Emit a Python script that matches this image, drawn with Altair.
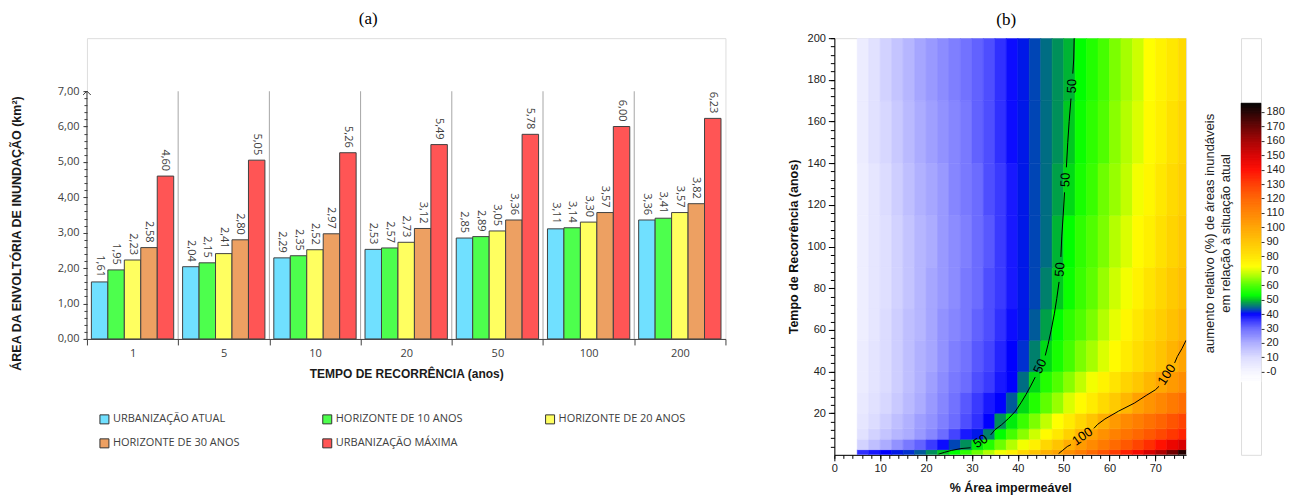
import altair as alt
import pandas as pd

# ======================= (a) grouped bars =======================
PERIODS = ['1', '5', '10', '20', '50', '100', '200']
SCENARIOS = ['URBANIZAÇÃO ATUAL', 'HORIZONTE DE 10 ANOS', 'HORIZONTE DE 20 ANOS',
             'HORIZONTE DE 30 ANOS', 'URBANIZAÇÃO MÁXIMA']
URB_ATUAL = [1.61, 2.04, 2.29, 2.53, 2.85, 3.11, 3.36]
HOR_10 = [1.95, 2.15, 2.35, 2.57, 2.89, 3.14, 3.41]
HOR_20 = [2.23, 2.41, 2.52, 2.73, 3.05, 3.30, 3.57]
HOR_30 = [2.58, 2.80, 2.97, 3.12, 3.36, 3.57, 3.82]
URB_MAX = [4.60, 5.05, 5.26, 5.49, 5.78, 6.00, 6.23]
BAR_COLORS = ['#70e0ff', '#4dff4d', '#ffff60', '#eda062', '#ff5555']
Y_TICKS_A = [0, 1, 2, 3, 4, 5, 6, 7]
Y_MINOR_A = [round(i * 0.2, 1) for i in range(36)]
Y_MAX_A = 7.0

# ======================= (b) heat map =======================
X_EDGES = [5.0, 7.5, 10.0, 12.5, 15.0, 17.5, 20.0, 22.5, 25.0, 27.5, 30.0, 32.5, 35.0,
           37.5, 40.0, 42.5, 45.0, 47.5, 50.0, 52.5, 55.0, 57.5, 60.0, 62.5, 65.0, 67.5,
           70.0, 72.5, 75.0, 77.5]
T_EDGES = [0, 2.5, 7.5, 12.5, 20, 30, 40, 55, 70, 90, 115, 140, 170, 200]
ROW_T000 = [36, 38, 40, 41, 42, 44, 47, 50, 53, 57, 62, 67, 72, 77, 84, 90, 96, 100, 106, 112, 118, 124, 130, 136, 142, 150, 158, 168, 180]
ROW_T002 = [12, 16, 20, 24, 28, 31, 35, 39, 43, 47, 52, 56, 62, 67, 72, 77, 84, 90, 97, 103, 108, 113, 118, 123, 128, 133, 139, 145, 150]
ROW_T007 = [8, 12, 15, 18, 20, 23, 26, 30, 34, 38, 41, 46, 53, 59, 64, 69, 74, 79, 86, 94, 101, 106, 111, 115, 119, 123, 127, 131, 135]
ROW_T012 = [6, 10, 13, 16, 19, 22, 24, 27, 30, 33, 36, 40, 47, 52, 58, 63, 68, 73, 78, 84, 90, 97, 103, 108, 112, 116, 120, 124, 128]
ROW_T020 = [5, 8, 11, 14, 17, 20, 23, 26, 29, 32, 35, 38, 40, 44, 51, 56, 61, 65, 70, 74, 78, 83, 88, 94, 101, 105, 109, 113, 117]
ROW_T030 = [4, 7, 10, 13, 16, 19, 22, 25, 28, 30, 33, 35, 38, 40, 45, 51, 56, 60, 64, 68, 72, 76, 80, 85, 89, 94, 99, 103, 107]
ROW_T040 = [4, 7, 10, 13, 16, 19, 21, 24, 27, 29, 32, 34, 37, 40, 42, 46, 51, 55, 59, 63, 66, 70, 74, 78, 82, 86, 90, 95, 100]
ROW_T055 = [3, 6, 10, 13, 16, 18, 21, 24, 26, 28, 31, 33, 36, 39, 41, 44, 48, 53, 57, 60, 63, 67, 71, 75, 79, 83, 87, 91, 95]
ROW_T070 = [3, 6, 9, 12, 15, 18, 21, 23, 25, 28, 30, 33, 35, 38, 41, 43, 46, 50, 54, 58, 61, 65, 69, 72, 76, 80, 84, 88, 92]
ROW_T090 = [3, 6, 9, 12, 15, 18, 20, 23, 25, 27, 30, 32, 35, 38, 41, 43, 45, 49, 53, 57, 60, 63, 67, 70, 74, 77, 81, 85, 89]
ROW_T115 = [3, 6, 10, 13, 16, 19, 21, 23, 26, 28, 30, 33, 35, 38, 41, 43, 45, 48, 51, 55, 58, 62, 65, 68, 72, 75, 79, 83, 87]
ROW_T140 = [4, 8, 11, 14, 17, 20, 22, 24, 26, 28, 31, 33, 36, 39, 41, 43, 45, 47, 50, 54, 57, 60, 64, 67, 70, 74, 77, 81, 85]
ROW_T170 = [4, 8, 12, 15, 18, 21, 23, 25, 27, 29, 31, 33, 36, 39, 41, 43, 45, 47, 49, 53, 56, 59, 63, 66, 69, 73, 76, 79, 83]
HEAT_ROWS = [ROW_T000, ROW_T002, ROW_T007, ROW_T012, ROW_T020, ROW_T030, ROW_T040,
             ROW_T055, ROW_T070, ROW_T090, ROW_T115, ROW_T140, ROW_T170]

# contour lines (x = % area, t = return period), split where labels sit
C_X = [52.3, 52.2, 52.0,
       51.6, 51.2, 50.9, 50.6,
       50.2, 49.9, 49.6, 49.4,
       49.0, 48.5, 48.0, 47.3, 46.6, 46.0,
       43.8, 42.8, 41.8, 40.7, 39.5, 38.0, 36.5, 35.0, 34.1,
       29.7, 27.6, 25.5, 24.0, 22.7,
       76.7, 75.8, 74.8, 74.2,
       70.8, 70.0, 68.0, 65.4, 62.0, 59.0, 57.4, 56.6,
       51.6, 50.8, 49.7, 48.9]
C_T = [200, 190, 183,
       171, 160, 150, 138,
       126, 115, 105, 95,
       83, 75, 68, 60, 53, 47.7,
       37.3, 33, 29, 25, 21, 17.5, 14.5, 12, 9.6,
       3.4, 3.0, 2.1, 1.2, 0.3,
       55, 51, 47.2, 44.1,
       32.9, 31.2, 28.5, 24.8, 21, 17.2, 14.6, 12.7,
       4.9, 4.0, 2.0, 0.6]
C_SEG = ['a'] * 3 + ['b'] * 4 + ['c'] * 4 + ['d'] * 6 + ['e'] * 9 + ['f'] * 5 + \
        ['g'] * 4 + ['h'] * 8 + ['i'] * 4
LAB_X = [51.8, 50.4, 49.2, 44.9, 31.9, 72.5, 54.1]
LAB_T = [177, 132, 89, 42.5, 6.5, 38.5, 8.8]
LAB_TXT = ['50', '50', '50', '50', '50', '100', '100']
LAB_ANG = [272, 272, 274, 295, 327, 303, 325]

# colour bar
CB_STOPS = [-7, 0, 10, 20, 30, 36, 40, 42, 44, 46, 48, 50, 53, 60, 67, 73, 80, 90, 100,
            110, 120, 130, 140, 150, 160, 170, 180, 186]
CB_COLORS = ['#ffffff', '#f6f6ff', '#dcdcff', '#acacff', '#6c6cff', '#3030ff', '#0000ff',
             '#0030d0', '#005a9a', '#00806c', '#00a048', '#00c820', '#00ff00', '#50ff00',
             '#b4ff00', '#ffff00', '#ffe400', '#ffc400', '#ffa400', '#ff8400', '#ff6400',
             '#ff3c00', '#ff0c00', '#d80000', '#a40000', '#640000', '#240000', '#000000']
CB_TICKS = [0, 10, 20, 30, 40, 50, 60, 70, 80, 90, 100, 110, 120, 130, 140, 150, 160, 170, 180]
HX_TICKS = [0, 10, 20, 30, 40, 50, 60, 70]
HX_MINOR = list(range(0, 77, 2))
HY_TICKS = [20, 40, 60, 80, 100, 120, 140, 160, 180, 200]
HY_MINOR = list(range(4, 201, 4))

FONT_A = 'Open Sans'
FONT_B = 'Liberation Sans'
DARK = '#404040'

# ---------------------------------------------------------------- sizes (px)
H_PLOT = 417                      # common plot height of all panels
YMAX_A_DOMAIN = 8.496             # (a): 7,00 sits 53 px under the plot top
H_A = 301
PX_A = H_A / YMAX_A_DOMAIN        # (a) pixels per km2
YC_DOMAIN = [-57.5, 231]

# ---------------------------------------------------------------- tables
rows = []
for s, vals in zip(SCENARIOS, [URB_ATUAL, HOR_10, HOR_20, HOR_30, URB_MAX]):
    for p, v in zip(PERIODS, vals):
        rows.append({'periodo': p, 'cenario': s, 'area': v,
                     'rotulo': f'{v:.2f}'.replace('.', ',')})
bars_df = pd.DataFrame(rows)
sep_df = pd.DataFrame({'periodo': PERIODS[1:], 'ymid': [Y_MAX_A / 2] * 6})
axis_df = pd.DataFrame({'ymid': [Y_MAX_A / 2], 'ytopo': [Y_MAX_A]})

hrows = []
for t0, t1, vals in zip(T_EDGES[:-1], T_EDGES[1:], HEAT_ROWS):
    for x0, x1, v in zip(X_EDGES[:-1], X_EDGES[1:], vals):
        hrows.append({'x0': x0, 'x1': x1, 't0': t0, 't1': t1, 'v': v})
heat_df = pd.DataFrame(hrows)

cont_df = pd.DataFrame({'x': C_X, 't': C_T, 'seg': C_SEG, 'i': list(range(len(C_X)))})
lab_df = pd.DataFrame({'x': LAB_X, 't': LAB_T, 'txt': LAB_TXT, 'ang': LAB_ANG})

# ---------------------------------------------------------------- (a)
ys_a = alt.Scale(domain=[0, YMAX_A_DOMAIN], nice=False, zero=True)
x_axis_a = alt.Axis(title='TEMPO DE RECORRÊNCIA (anos)', labelAngle=0, tickBand='extent',
                    grid=False, gridOpacity=0, tickSize=6, tickColor=DARK,
                    domainColor=DARK, labelFont=FONT_A, labelFontSize=11, labelColor=DARK,
                    labelPadding=3, titleFont=FONT_B, titleFontSize=12,
                    titleFontWeight='bold', titleColor='#1a1a1a', titlePadding=10)
x_scale_a = alt.Scale(paddingInner=0, paddingOuter=0)
bar_x = alt.X('periodo:N', sort=PERIODS, scale=x_scale_a, axis=x_axis_a)
bar_xo = alt.XOffset('cenario:N', sort=SCENARIOS,
                     scale=alt.Scale(paddingOuter=0.27, paddingInner=0))
base_a = alt.Chart(bars_df)

sep_len = Y_MAX_A * PX_A
separators = alt.Chart(sep_df).mark_tick(orient='vertical', size=sep_len, thickness=1,
                                         color='#a6a6a6', opacity=1).encode(
    x=alt.X('periodo:N', sort=PERIODS, scale=x_scale_a, axis=x_axis_a, bandPosition=0),
    y=alt.Y('ymid:Q', scale=ys_a, axis=None))

bars = base_a.mark_bar(stroke=DARK, strokeWidth=1).encode(
    x=bar_x, xOffset=bar_xo,
    y=alt.Y('area:Q', scale=ys_a,
            axis=alt.Axis(orient='left', values=Y_TICKS_A, domain=False,
                          labelExpr="replace(format(datum.value, '.2f'), '.', ',')",
                          tickSize=4, tickColor=DARK, labelFont=FONT_A,
                          labelFontSize=11, labelColor=DARK, labelPadding=4, grid=False,
                          labelFlush=False, labelOverlap=False,
                          title='ÁREA DA ENVOLTÓRIA DE INUNDAÇÃO (km²)', titleFont=FONT_B,
                          titleFontSize=12.5, titleFontWeight='bold', titleColor='#1a1a1a',
                          titleX=-70, titleY=195, titleBaseline='middle', titleAngle=270)),
    color=alt.Color('cenario:N', sort=SCENARIOS,
                    scale=alt.Scale(domain=SCENARIOS, range=BAR_COLORS),
                    legend=alt.Legend(title=None, orient='none', legendX=12, legendY=376,
                                      direction='horizontal', columns=3, columnPadding=81,
                                      rowPadding=11, symbolType='square', symbolSize=81,
                                      symbolStrokeColor='#333333', symbolStrokeWidth=1,
                                      labelFont=FONT_A, labelFontSize=11, labelColor=DARK,
                                      labelOffset=3, padding=0)),
)
labels = base_a.mark_text(angle=90, align='right', baseline='middle', radius=5, theta=0,
                          font=FONT_A, fontSize=11, color=DARK).encode(
    x=bar_x, xOffset=bar_xo,
    y=alt.Y('area:Q', scale=ys_a, axis=None),
    text='rotulo:N')
minor_a = base_a.mark_point(opacity=0).encode(
    y=alt.Y('area:Q', scale=ys_a,
            axis=alt.Axis(orient='left', values=Y_MINOR_A, labels=False, domain=False,
                          tickSize=3, tickColor=DARK, grid=False, title=None)))
y_line = alt.Chart(axis_df).mark_tick(orient='vertical', size=sep_len, thickness=1,
                                      color=DARK, opacity=1).encode(
    x=alt.value(0), y=alt.Y('ymid:Q', scale=ys_a, axis=None))
arrow = alt.Chart(axis_df).mark_point(
    shape='M -1 1 L 0 0 L 1 1', filled=False, size=60, color=DARK, strokeWidth=1,
    opacity=1).encode(x=alt.value(0), y=alt.Y('ytopo:Q', scale=ys_a, axis=None))

chart_a = alt.layer(separators, bars, labels, minor_a, y_line, arrow).resolve_axis(
    y='independent').properties(
    width=639, height=H_A,
    title=alt.Title('(a)', font='Liberation Serif', fontSize=17, fontWeight='normal',
                    color='black', offset=10, dx=-38, anchor='middle'))

# ---------------------------------------------------------------- (b)
cscale = alt.Scale(domain=CB_STOPS, range=CB_COLORS, interpolate='rgb')
xs_b = alt.Scale(domain=[0, 76.7], nice=False, zero=False)
ys_b = alt.Scale(domain=[0, 200], nice=False, zero=False)

heat = alt.Chart(heat_df).mark_rect(clip=True, strokeWidth=0.6).encode(
    x=alt.X('x0:Q', scale=xs_b,
            axis=alt.Axis(orient='bottom', values=HX_TICKS, tickSize=6, tickColor='black',
                          domainColor='black', labelFont=FONT_B, labelFontSize=11,
                          labelColor='#222222', labelPadding=2, labelFlush=False,
                          labelOverlap=False, grid=False, title='% Área impermeável',
                          titleFont=FONT_B, titleFontSize=12.5, titleFontWeight='bold',
                          titleColor='#111111', titlePadding=8)),
    x2='x1:Q',
    y=alt.Y('t0:Q', scale=ys_b,
            axis=alt.Axis(orient='left', values=HY_TICKS, tickSize=6, tickColor='black',
                          domainColor='black', labelFont=FONT_B, labelFontSize=11,
                          labelColor='#222222', labelPadding=3, labelFlush=False,
                          labelOverlap=False, grid=False,
                          title='Tempo de Recorrência (anos)', titleFont=FONT_B,
                          titleFontSize=12.5, titleFontWeight='bold', titleColor='#111111',
                          titleX=-41, titleBaseline='middle', titleAngle=270)),
    y2='t1:Q',
    color=alt.Color('v:Q', scale=cscale, legend=None),
    stroke=alt.Stroke('v:Q', scale=cscale, legend=None),
)
lines = alt.Chart(cont_df).mark_line(color='black', strokeWidth=1, clip=True).encode(
    x=alt.X('x:Q', scale=xs_b,
            axis=alt.Axis(orient='bottom', values=HX_MINOR, labels=False, domain=False,
                          tickSize=3.5, tickColor='black', grid=False, title=None)),
    y=alt.Y('t:Q', scale=ys_b,
            axis=alt.Axis(orient='left', values=HY_MINOR, labels=False, domain=False,
                          tickSize=4, tickColor='black', grid=False, title=None)),
    detail='seg:N', order='i:Q')
ctext = alt.Chart(lab_df).mark_text(font=FONT_B, fontSize=13, color='black', align='center',
                                    baseline='middle').encode(
    x=alt.X('x:Q', scale=xs_b, axis=None),
    y=alt.Y('t:Q', scale=ys_b, axis=None),
    text='txt:N', angle=alt.Angle('ang:Q', scale=None))

title_b = dict(font='Liberation Serif', fontSize=17, fontWeight='normal', color='black',
               offset=3, anchor='middle')
chart_b = alt.layer(heat, lines, ctext).resolve_axis(
    x='independent', y='independent').properties(
    width=352, height=H_PLOT, title=alt.Title('(b)', dx=-4, **title_b))

# ---------------------------------------------------------------- colour bar
ys_c = alt.Scale(domain=YC_DOMAIN, nice=False, zero=False)
chart_c = alt.Chart(alt.sequence(-7, 186, 0.5, as_='v')).transform_calculate(
    v2='datum.v + 0.5').mark_rect(strokeWidth=0.6).encode(
    x=alt.value(0), x2=alt.value(20),
    y=alt.Y('v:Q', scale=ys_c,
            axis=alt.Axis(orient='right', values=CB_TICKS,
                          labelExpr="datum.value == 0 ? '-0' : datum.label",
                          tickSize=3, tickColor='#333333', domain=False, grid=False,
                          labelFont=FONT_B, labelFontSize=11, labelColor='#222222',
                          labelPadding=2, labelFlush=False, labelOverlap=False,
                          title=['aumento relativo (%) de áreas inundáveis',
                                 'em relação à situação atual'],
                          titleFont=FONT_B, titleFontSize=13, titleFontWeight='normal',
                          titleColor='#222222', titleX=-52, titleY=195, titleAngle=270,
                          titleBaseline='middle', titleLineHeight=16)),
    y2='v2:Q',
    color=alt.Color('v:Q', scale=cscale, legend=None),
    stroke=alt.Stroke('v:Q', scale=cscale, legend=None),
).properties(width=20, height=H_PLOT, title=alt.Title(' ', **title_b))

right = alt.hconcat(chart_b, chart_c, spacing=15).resolve_scale(
    color='independent', stroke='independent')
chart = alt.hconcat(chart_a, right, spacing=60).resolve_scale(
    color='independent', stroke='independent').properties(
    padding={'left': 2, 'top': 1, 'right': 0, 'bottom': 0}).configure_view(
    stroke=None, strokeWidth=0, strokeOpacity=0).configure_axis(
    grid=False).configure(background='white')

chart.save('out.html', embed_options={'renderer': 'svg', 'actions': False})
